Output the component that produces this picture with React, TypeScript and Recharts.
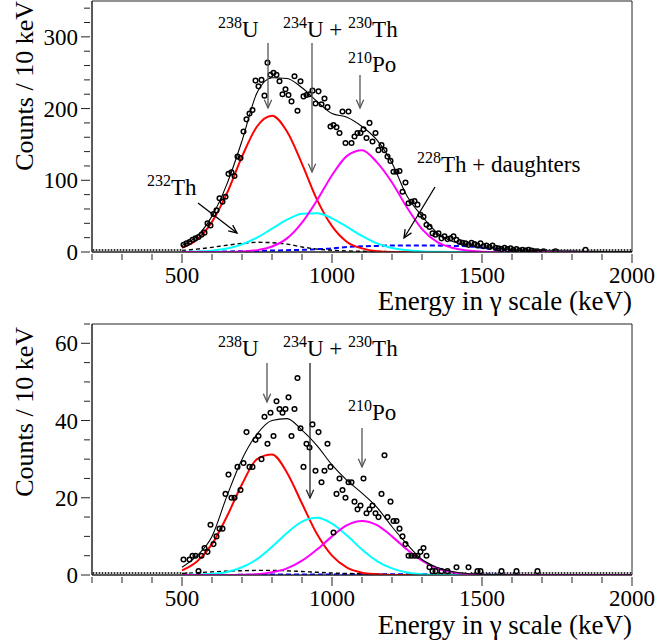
import React from "react";
import {
  ComposedChart,
  Line,
  Scatter,
  XAxis,
  YAxis,
  ReferenceArea,
} from "recharts";

const curveEnergies = [
  500, 550, 600, 650, 700, 750, 800, 850, 900, 950, 1000, 1050, 1100, 1150, 1200,
  1250, 1300, 1350, 1400, 1450, 1500, 1550, 1600, 1650, 1700, 1750, 1800, 1850,
  1900, 1950, 2000,
];

// ---- top panel fit components
const topTotal = [9, 22, 50, 95, 155, 222, 243, 242, 229, 210, 193, 188, 175, 156, 124, 78, 50, 27, 15, 10, 7, 5, 3.5, 2.5, 2, 1.5, 1.2, 1, 0.8, 0.6, 0.5];
const topU238 = [6, 17, 42, 82, 133, 175, 190, 168, 123, 73, 36, 14, 5, 1, 0, 0, 0, 0, 0, 0, 0, 0, 0, 0, 0, 0, 0, 0, 0, 0, 0];
const topU234Th230 = [0.2, 0.6, 1.9, 4.8, 10.7, 20, 32.5, 45, 53.5, 54, 47, 35, 22.5, 12, 5.7, 2.3, 0.8, 0.3, 0.1, 0, 0, 0, 0, 0, 0, 0, 0, 0, 0, 0, 0];
const topPo210 = [0, 0, 0, 0, 0.7, 2.6, 7.7, 19, 41, 72, 107, 134, 142, 125, 97, 62, 32, 14, 6, 2, 0.5, 0, 0, 0, 0, 0, 0, 0, 0, 0, 0];
const topTh232 = [2, 4, 6.5, 9.5, 12, 13.5, 13, 11, 7, 4, 2.5, 1.5, 1, 0.7, 0.5, 0.3, 0.2, 0.1, 0, 0, 0, 0, 0, 0, 0, 0, 0, 0, 0, 0, 0];
const topTh228 = [0, 0.2, 0.5, 0.8, 1, 1.5, 2, 2.5, 3, 4, 5, 7, 8, 8.5, 9, 9, 9, 9, 8.5, 8, 6, 3, 1.5, 0.8, 0.5, 0.3, 0.2, 0.1, 0, 0, 0];

// ---- bottom panel fit components
const botTotal = [2, 5, 10, 20.5, 30, 36.5, 40, 40.5, 37.5, 33.5, 28.5, 24.5, 21.2, 17.5, 12.5, 8, 4, 2, 0.9, 0.4, 0.2, 0.1, 0.05, 0, 0, 0, 0, 0, 0, 0, 0];
const botU238 = [1.2, 3.5, 8, 15.2, 23.5, 30, 31.2, 26.5, 18.5, 10.6, 5, 1.9, 0.6, 0.2, 0, 0, 0, 0, 0, 0, 0, 0, 0, 0, 0, 0, 0, 0, 0, 0, 0];
const botU234Th230 = [0, 0.1, 0.3, 0.8, 2, 4.1, 7.3, 10.9, 13.8, 14.8, 13.3, 10.2, 6.6, 3.6, 1.7, 0.65, 0.2, 0.05, 0, 0, 0, 0, 0, 0, 0, 0, 0, 0, 0, 0, 0];
const botPo210 = [0, 0, 0, 0, 0.06, 0.2, 0.7, 1.7, 3.7, 6.6, 10, 12.9, 14, 12.9, 10, 6.6, 3.7, 1.7, 0.7, 0.2, 0.06, 0, 0, 0, 0, 0, 0, 0, 0, 0, 0];
const botTh232 = [0.4, 0.6, 0.8, 1, 1.1, 1.2, 1.2, 1.1, 0.9, 0.7, 0.5, 0.4, 0.3, 0.2, 0.1, 0, 0, 0, 0, 0, 0, 0, 0, 0, 0, 0, 0, 0, 0, 0, 0];
const botTh228 = [0, 0, 0, 0, 0.05, 0.05, 0.1, 0.1, 0.1, 0.15, 0.15, 0.2, 0.2, 0.2, 0.2, 0.2, 0.2, 0.2, 0.2, 0.2, 0.2, 0.1, 0.05, 0, 0, 0, 0, 0, 0, 0, 0];

// ---- measured counts per 10 keV bin
// bins below threshold (205..495 keV) are empty
const belowThreshold = [0, 0, 0, 0, 0, 0, 0, 0, 0, 0, 0, 0, 0, 0, 0, 0, 0, 0, 0, 0, 0, 0, 0, 0, 0, 0, 0, 0, 0, 0];
// bins 505..1995 keV
const topCounts = [
  10, 12, 14, 17, 19, 21, 24, 27, 40, 37,
  53, 58, 75, 70, 77, 109, 111, 106, 133, 131,
  168, 185, 193, 198, 239, 231, 240, 218, 264, 247,
  250, 247, 238, 220, 227, 219, 210, 245, 197, 238,
  217, 219, 220, 225, 207, 224, 206, 214, 202, 175,
  177, 174, 166, 196, 152, 196, 152, 161, 166, 166,
  171, 159, 180, 154, 166, 142, 149, 142, 133, 127,
  112, 112, 113, 84, 97, 68, 70, 71, 66, 52,
  49, 38, 35, 26, 24, 26, 19, 22, 18, 19,
  22, 17, 14, 13, 12, 10, 13, 11, 9, 12,
  8, 9, 7, 9, 6, 5, 4, 6, 4, 5,
  3, 4, 2, 3, 2, 3, 2, 1, 1, 0,
  1, 0, 0, 0, 1, 0, 0, 0, 0, 0,
  0, 0, 0, 0, 3, 0, 0, 0, 0, 0,
  0, 0, 0, 0, 0, 0, 0, 0, 0, 0,
];
const bottomCounts = [
  4, 0, 4, 5, 5, 1, 5, 7, 6, 13,
  8, 10, 12, 12, 21, 26, 20, 20, 28, 22,
  29, 37, 28, 28, 35, 36, 30, 41, 34, 42,
  36, 45, 43, 42, 43, 46, 36, 43, 51, 38,
  28, 34, 33, 39, 27, 37, 24, 27, 34, 28,
  11, 21, 25, 22, 20, 24, 24, 19, 17, 18,
  25, 16, 17, 18, 16, 15, 21, 31, 15, 19,
  14, 14, 12, 10, 8, 5, 5, 5, 5, 6,
  7, 5, 2, 1, 1, 0, 1, 0, 1, 0,
  0, 2, 0, 0, 0, 2, 0, 0, 1, 1,
  0, 0, 0, 0, 0, 0, 1, 0, 0, 0,
  0, 1, 0, 0, 0, 0, 0, 0, 1, 0,
  0, 0, 0, 0, 0, 0, 0, 0, 0, 0,
  0, 0, 0, 0, 0, 0, 0, 0, 0, 0,
  0, 0, 0, 0, 0, 0, 0, 0, 0, 0,
];

const xTicks = [200, 300, 400, 500, 600, 700, 800, 900, 1000, 1100, 1200, 1300, 1400, 1500, 1600, 1700, 1800, 1900, 2000];
const xTickLabels = [500, 1000, 1500, 2000];
const topYTicks = [0, 20, 40, 60, 80, 100, 120, 140, 160, 180, 200, 220, 240, 260, 280, 300, 320, 340];
const topYLabels = [0, 100, 200, 300];
const botYTicks = [0, 5, 10, 15, 20, 25, 30, 35, 40, 45, 50, 55, 60, 65];
const botYLabels = [0, 20, 40, 60];

const FONT = "Liberation Serif, DejaVu Serif, serif";
const AXIS = "#222";

const toPoints = (counts: number[]) => [
  ...belowThreshold.map((c, i) => ({ x: 205 + 10 * i, y: c })),
  ...counts.map((c, i) => ({ x: 505 + 10 * i, y: c })),
];

const buildRows = (s: Record<string, number[]>) =>
  curveEnergies.map((x, i) => {
    const row: Record<string, number> = { x };
    Object.keys(s).forEach((k) => (row[k] = s[k][i]));
    return row;
  });

const renderPoint = (p: any) => {
  const { cx, cy, payload } = p;
  if (cx == null || cy == null) return <g />;
  if (payload.y === 0) {
    return <rect x={cx - 0.8} y={cy - 3} width={1.6} height={2} fill="#333" />;
  }
  return <circle cx={cx} cy={cy} r={2.3} fill="none" stroke="#000" strokeWidth={1.5} />;
};

const makeXTick = (p: any) => {
  const { x, y, payload } = p;
  const major = xTickLabels.includes(payload.value);
  return (
    <g>
      <line x1={x} x2={x} y1={y} y2={y + (major ? 9 : 6)} stroke={AXIS} strokeWidth={1} />
      {major && (
        <text x={x} y={y + 29} textAnchor="middle" style={{ fontFamily: FONT }} fontSize={23} fill="#000">
          {payload.value}
        </text>
      )}
    </g>
  );
};

const makeYTick = (labels: number[]) => (p: any) => {
  const { x, y, payload } = p;
  const major = labels.includes(payload.value);
  return (
    <g>
      <line x1={x - (major ? 9 : 6)} x2={x} y1={y} y2={y} stroke={AXIS} strokeWidth={1} />
      {major && (
        <text x={x - 12} y={y + 8} textAnchor="end" style={{ fontFamily: FONT }} fontSize={23} fill="#000">
          {payload.value}
        </text>
      )}
    </g>
  );
};

interface PanelProps {
  rows: Record<string, number>[];
  points: { x: number; y: number }[];
  yMax: number;
  yTicks: number[];
  yLabels: number[];
  top: number;
  bottom: number;
}

const Panel = ({ rows, points, yMax, yTicks, yLabels, top, bottom }: PanelProps) => (
  <ComposedChart
    width={658}
    height={320}
    data={rows}
    margin={{ top, right: 26, bottom, left: 32 }}
  >
    <XAxis
      type="number"
      dataKey="x"
      domain={[200, 2000]}
      ticks={xTicks}
      interval={0}
      tick={makeXTick}
      tickLine={false}
      tickSize={0}
      height={40}
      axisLine={{ stroke: AXIS }}
      allowDataOverflow
    />
    <YAxis
      type="number"
      domain={[0, yMax]}
      ticks={yTicks}
      interval={0}
      tick={makeYTick(yLabels)}
      tickLine={false}
      tickSize={0}
      width={60}
      axisLine={{ stroke: AXIS }}
      allowDataOverflow
    />
    <ReferenceArea x1={200} x2={2000} y1={0} y2={yMax} fill="none" stroke={AXIS} strokeWidth={1} />
    <Scatter data={points} dataKey="y" shape={renderPoint} isAnimationActive={false} />
    <Line dataKey="th228" type="monotone" stroke="#0000ff" strokeWidth={2} strokeDasharray="5 3" dot={false} isAnimationActive={false} />
    <Line dataKey="th232" type="monotone" stroke="#000" strokeWidth={1.4} strokeDasharray="4 3" dot={false} isAnimationActive={false} />
    <Line dataKey="u238" type="monotone" stroke="#ff0000" strokeWidth={2} dot={false} isAnimationActive={false} />
    <Line dataKey="u234" type="monotone" stroke="#00ffff" strokeWidth={2} dot={false} isAnimationActive={false} />
    <Line dataKey="po210" type="monotone" stroke="#ff00ff" strokeWidth={2} dot={false} isAnimationActive={false} />
    <Line dataKey="total" type="monotone" stroke="#000" strokeWidth={1.1} dot={false} isAnimationActive={false} />
  </ComposedChart>
);

const Iso = ({ x, y, mass, name, tail }: { x: number; y: number; mass: string; name: string; tail?: React.ReactNode }) => (
  <text x={x} y={y} style={{ fontFamily: FONT }} fontSize={23} fill="#000">
    <tspan fontSize={16} dy={-9}>{mass}</tspan>
    <tspan dy={9}>{name}</tspan>
    {tail}
  </text>
);

const Arrow = ({ x1, y1, x2, y2, color = "#555" }: { x1: number; y1: number; x2: number; y2: number; color?: string }) => {
  const a = Math.atan2(y2 - y1, x2 - x1);
  const L = 9;
  const w = 0.42;
  const p1 = [x2 - L * Math.cos(a - w), y2 - L * Math.sin(a - w)];
  const p2 = [x2 - L * Math.cos(a + w), y2 - L * Math.sin(a + w)];
  return (
    <g stroke={color} strokeWidth={1.3} fill="none">
      <line x1={x1} y1={y1} x2={x2} y2={y2} />
      <polyline points={`${p1[0]},${p1[1]} ${x2},${y2} ${p2[0]},${p2[1]}`} />
    </g>
  );
};

const Annotations = () => (
  <svg width={658} height={643} style={{ position: "absolute", left: 0, top: 0, pointerEvents: "none", fontFamily: FONT }}>
    {/* axis titles */}
    <text transform="translate(33,1) rotate(-90)" textAnchor="end" fontSize={26}>Counts / 10 keV</text>
    <text transform="translate(33,327) rotate(-90)" textAnchor="end" fontSize={26}>Counts / 10 keV</text>
    <text x={632} y={310} textAnchor="end" fontSize={27}>Energy in γ scale (keV)</text>
    <text x={632} y={634} textAnchor="end" fontSize={27}>Energy in γ scale (keV)</text>

    {/* top panel */}
    <Iso x={218} y={37} mass="238" name="U" />
    <Arrow x1={268} y1={43} x2={268} y2={108} />
    <Iso x={283} y={37} mass="234" name="U + " tail={<><tspan fontSize={16} dy={-9}>230</tspan><tspan dy={9}>Th</tspan></>} />
    <Arrow x1={312} y1={43} x2={312} y2={172} />
    <Iso x={348} y={72} mass="210" name="Po" />
    <Arrow x1={360} y1={75} x2={360} y2={108} />
    <Iso x={147} y={195} mass="232" name="Th" />
    <Arrow x1={198} y1={203} x2={237} y2={233} color="#000" />
    <Iso x={417} y={172} mass="228" name="Th + daughters" />
    <Arrow x1={435} y1={187} x2={404} y2={238} color="#000" />

    {/* bottom panel */}
    <Iso x={218} y={356} mass="238" name="U" />
    <Arrow x1={267} y1={363} x2={267} y2={402} />
    <Iso x={283} y={356} mass="234" name="U + " tail={<><tspan fontSize={16} dy={-9}>230</tspan><tspan dy={9}>Th</tspan></>} />
    <Arrow x1={310} y1={363} x2={310} y2={498} color="#222" />
    <Iso x={348} y={420} mass="210" name="Po" />
    <Arrow x1={362} y1={428} x2={362} y2={467} />
  </svg>
);

const App = () => {
  const topRows = buildRows({
    total: topTotal,
    u238: topU238,
    u234: topU234Th230,
    po210: topPo210,
    th232: topTh232,
    th228: topTh228,
  });
  const botRows = buildRows({
    total: botTotal,
    u238: botU238,
    u234: botU234Th230,
    po210: botPo210,
    th232: botTh232,
    th228: botTh228,
  });

  return (
    <div style={{ position: "absolute", left: 0, top: 0, width: 658, height: 643, background: "#fff", fontFamily: FONT }}>
      <div style={{ position: "absolute", left: 0, top: 0 }}>
        <Panel rows={topRows} points={toPoints(topCounts)} yMax={350} yTicks={topYTicks} yLabels={topYLabels} top={1} bottom={28} />
      </div>
      <div style={{ position: "absolute", left: 0, top: 320 }}>
        <Panel rows={botRows} points={toPoints(bottomCounts)} yMax={65} yTicks={botYTicks} yLabels={botYLabels} top={4} bottom={25} />
      </div>
      <Annotations />
    </div>
  );
};

export default App;
